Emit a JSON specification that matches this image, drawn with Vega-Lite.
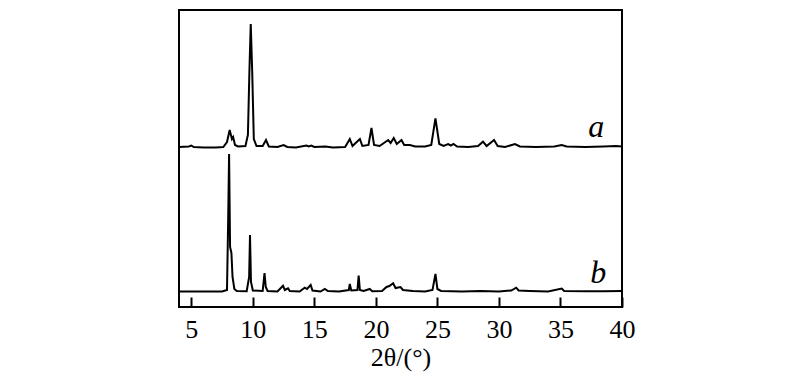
{
  "$schema": "https://vega.github.io/schema/vega-lite/v6.json",
  "autosize": "none",
  "width": 443,
  "height": 297,
  "padding": {"left": 179, "top": 10, "right": 178, "bottom": 77},
  "background": "white",
  "config": {
    "view": {"stroke": "black", "strokeWidth": 2}
  },
  "datasets": {
    "a": [
      {"t": 4.0, "v": 160}, {"t": 4.8, "v": 160.5}, {"t": 5.0, "v": 161.5}, {"t": 5.2, "v": 160},
      {"t": 6.0, "v": 159.5}, {"t": 7.0, "v": 159.5}, {"t": 7.6, "v": 160},
      {"t": 7.9, "v": 165}, {"t": 8.12, "v": 177}, {"t": 8.3, "v": 168}, {"t": 8.4, "v": 170}, {"t": 8.55, "v": 162}, {"t": 8.8, "v": 160.5},
      {"t": 9.4, "v": 161}, {"t": 9.6, "v": 172}, {"t": 9.72, "v": 235}, {"t": 9.83, "v": 283}, {"t": 9.95, "v": 235}, {"t": 10.08, "v": 168}, {"t": 10.3, "v": 161},
      {"t": 10.8, "v": 161}, {"t": 11.07, "v": 167}, {"t": 11.3, "v": 160.5},
      {"t": 12.0, "v": 160}, {"t": 12.5, "v": 162}, {"t": 12.8, "v": 160}, {"t": 13.5, "v": 159.5},
      {"t": 14.35, "v": 161.5}, {"t": 14.55, "v": 160.5}, {"t": 14.75, "v": 161.5}, {"t": 15.0, "v": 160},
      {"t": 15.9, "v": 160.5}, {"t": 16.5, "v": 159.5}, {"t": 17.5, "v": 160},
      {"t": 17.88, "v": 168}, {"t": 18.1, "v": 161}, {"t": 18.7, "v": 168}, {"t": 18.9, "v": 161},
      {"t": 19.4, "v": 162}, {"t": 19.64, "v": 179}, {"t": 19.85, "v": 162}, {"t": 20.3, "v": 161},
      {"t": 21.0, "v": 167}, {"t": 21.2, "v": 164}, {"t": 21.45, "v": 169}, {"t": 21.7, "v": 163},
      {"t": 22.08, "v": 167}, {"t": 22.3, "v": 162}, {"t": 22.76, "v": 162}, {"t": 23.2, "v": 160.5},
      {"t": 24.0, "v": 160.5}, {"t": 24.5, "v": 162}, {"t": 24.84, "v": 188.7}, {"t": 25.15, "v": 163},
      {"t": 25.5, "v": 161}, {"t": 25.87, "v": 163}, {"t": 26.1, "v": 161.5}, {"t": 26.3, "v": 163}, {"t": 26.6, "v": 160.5},
      {"t": 27.5, "v": 160}, {"t": 28.3, "v": 161}, {"t": 28.7, "v": 165.3}, {"t": 29.0, "v": 161},
      {"t": 29.6, "v": 167}, {"t": 29.9, "v": 161}, {"t": 30.5, "v": 160}, {"t": 31.3, "v": 163}, {"t": 31.7, "v": 160.5},
      {"t": 33.0, "v": 160}, {"t": 34.5, "v": 160.5}, {"t": 35.1, "v": 162}, {"t": 35.5, "v": 160.5},
      {"t": 37.0, "v": 160}, {"t": 38.5, "v": 160.5}, {"t": 39.5, "v": 161}, {"t": 40.0, "v": 160.5}
    ],
    "b": [
      {"t": 4.0, "v": 15.5}, {"t": 6.0, "v": 15.5}, {"t": 7.5, "v": 15.5}, {"t": 7.9, "v": 17},
      {"t": 8.0, "v": 90}, {"t": 8.07, "v": 153}, {"t": 8.15, "v": 60}, {"t": 8.26, "v": 54}, {"t": 8.35, "v": 30},
      {"t": 8.5, "v": 18}, {"t": 8.7, "v": 16}, {"t": 9.5, "v": 15.8}, {"t": 9.7, "v": 30}, {"t": 9.77, "v": 72},
      {"t": 9.85, "v": 25}, {"t": 10.0, "v": 16.5}, {"t": 10.8, "v": 16}, {"t": 10.95, "v": 34}, {"t": 11.05, "v": 20},
      {"t": 11.2, "v": 16}, {"t": 12.0, "v": 15.5}, {"t": 12.45, "v": 21.3}, {"t": 12.6, "v": 17}, {"t": 12.86, "v": 18.7},
      {"t": 13.0, "v": 16}, {"t": 13.8, "v": 15.5}, {"t": 14.22, "v": 19.3}, {"t": 14.4, "v": 18}, {"t": 14.7, "v": 22},
      {"t": 14.85, "v": 16.5}, {"t": 15.5, "v": 15.5}, {"t": 15.85, "v": 18}, {"t": 16.1, "v": 16}, {"t": 17.0, "v": 15.5},
      {"t": 17.8, "v": 17}, {"t": 17.88, "v": 23}, {"t": 18.0, "v": 16.5}, {"t": 18.5, "v": 17}, {"t": 18.6, "v": 31.3},
      {"t": 18.7, "v": 17}, {"t": 19.0, "v": 16}, {"t": 19.5, "v": 18}, {"t": 19.7, "v": 15.8}, {"t": 20.5, "v": 16},
      {"t": 20.86, "v": 20}, {"t": 21.1, "v": 21}, {"t": 21.4, "v": 23.7}, {"t": 21.6, "v": 19}, {"t": 22.0, "v": 20},
      {"t": 22.2, "v": 17}, {"t": 23.0, "v": 16}, {"t": 24.0, "v": 15.5}, {"t": 24.6, "v": 17}, {"t": 24.84, "v": 33},
      {"t": 25.0, "v": 18}, {"t": 25.3, "v": 16}, {"t": 27.0, "v": 15.5}, {"t": 28.5, "v": 16}, {"t": 30.0, "v": 15.5},
      {"t": 31.0, "v": 16.5}, {"t": 31.4, "v": 19.3}, {"t": 31.6, "v": 16.5}, {"t": 32.5, "v": 16}, {"t": 34.0, "v": 15.5},
      {"t": 35.1, "v": 18.5}, {"t": 35.3, "v": 16}, {"t": 37.0, "v": 15.8}, {"t": 38.5, "v": 15.8}, {"t": 40.0, "v": 16}
    ],
    "labels": [
      {"t": 37.9, "v": 180, "name": "a"},
      {"t": 38.07, "v": 34, "name": "b"}
    ]
  },
  "layer": [
    {
      "data": {"name": "a"},
      "mark": {"type": "line", "color": "black", "strokeWidth": 2, "clip": true},
      "encoding": {
        "x": {"field": "t", "type": "quantitative", "scale": {"domain": [4, 40], "nice": false, "zero": false},
          "axis": {"title": "2θ/(°)", "values": [5, 10, 15, 20, 25, 30, 35, 40], "grid": false, "domain": false,
            "tickColor": "black", "tickWidth": 2, "tickSize": -10, "labelPadding": 19,
            "labelFont": "Times New Roman", "labelFontSize": 26, "labelColor": "black", "labelFlush": false,
            "titleFont": "Times New Roman", "titleFontSize": 26, "titleFontWeight": "normal", "titleColor": "black", "titlePadding": 2}},
        "y": {"field": "v", "type": "quantitative", "scale": {"domain": [0, 297], "nice": false}, "axis": null}
      }
    },
    {
      "data": {"name": "b"},
      "mark": {"type": "line", "color": "black", "strokeWidth": 2, "clip": true},
      "encoding": {
        "x": {"field": "t", "type": "quantitative"},
        "y": {"field": "v", "type": "quantitative"}
      }
    },
    {
      "data": {"name": "labels"},
      "mark": {"type": "text", "font": "Times New Roman", "fontStyle": "italic", "fontSize": 32, "color": "black", "baseline": "middle", "align": "center"},
      "encoding": {
        "x": {"field": "t", "type": "quantitative"},
        "y": {"field": "v", "type": "quantitative"},
        "text": {"field": "name"}
      }
    }
  ]
}
